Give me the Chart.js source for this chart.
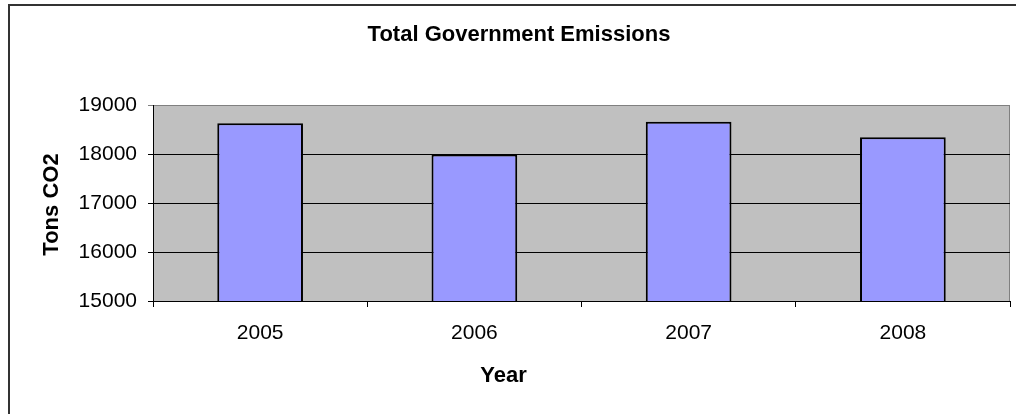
<!DOCTYPE html>
<html>
<head>
<meta charset="utf-8">
<title>Total Government Emissions</title>
<script src="https://cdn.jsdelivr.net/npm/chart.js@4"></script>
<style>
  html, body { margin: 0; padding: 0; background: #fff; }
  #wrap { width: 1016px; height: 414px; position: relative; }
</style>
</head>
<body>
<div id="wrap"><canvas id="emissionsChart"></canvas></div>
<script>
var years = ["2005", "2006", "2007", "2008"];
var tonsCO2 = [18630, 17990, 18660, 18340];
var yMin = 15000;
var yMax = 19000;
var yStep = 1000;

var FONT = "'Liberation Sans', Arial, sans-serif";

// grey plot area, frame and the three titles, drawn like an old spreadsheet chart
var excelFrame = {
  id: 'excelFrame',
  beforeDraw: function (chart) {
    var ctx = chart.ctx;
    var a = chart.chartArea;
    ctx.save();
    ctx.fillStyle = '#ffffff';
    ctx.fillRect(0, 0, chart.width, chart.height);
    ctx.fillStyle = '#c0c0c0';
    ctx.fillRect(a.left, a.top, a.right - a.left, a.bottom - a.top);
    ctx.strokeStyle = '#808080';
    ctx.lineWidth = 1;
    ctx.beginPath();
    ctx.moveTo(a.left, a.top + 0.5);
    ctx.lineTo(a.right - 0.5, a.top + 0.5);
    ctx.lineTo(a.right - 0.5, a.bottom);
    ctx.stroke();
    ctx.restore();
  },
  afterDraw: function (chart) {
    var ctx = chart.ctx;
    ctx.save();
    // outer chart border
    ctx.strokeStyle = '#333333';
    ctx.lineWidth = 2;
    ctx.strokeRect(9, 5, chart.width + 20, chart.height + 20);

    ctx.fillStyle = '#000';
    ctx.textAlign = 'center';
    ctx.textBaseline = 'alphabetic';
    ctx.font = 'bold 22px ' + FONT;
    ctx.fillText('Total Government Emissions', 519, 41);
    ctx.fillText('Year', 503.5, 381.5);

    ctx.translate(58, 204.5);
    ctx.rotate(-Math.PI / 2);
    ctx.fillText('Tons CO2', 0, 0);
    ctx.restore();
  }
};

var ctx = document.getElementById('emissionsChart').getContext('2d');
var emissionsChart = new Chart(ctx, {
  type: 'bar',
  data: {
    labels: years,
    datasets: [{
      label: 'Tons CO2',
      data: tonsCO2,
      backgroundColor: '#9999ff',
      borderColor: '#000000',
      borderWidth: 2,
      borderSkipped: false,
      barPercentage: 0.4,
      categoryPercentage: 1.0
    }]
  },
  options: {
    responsive: true,
    maintainAspectRatio: false,
    animation: false,
    events: [],
    layout: {
      padding: { top: 105, right: 6, bottom: 0, left: 0 }
    },
    plugins: {
      legend: { display: false },
      title: { display: false },
      tooltip: { enabled: false }
    },
    scales: {
      x: {
        afterFit: function (scale) { scale.height = 113; },
        grid: {
          offset: true,
          drawOnChartArea: false,
          drawTicks: true,
          tickLength: 6,
          color: '#000000'
        },
        border: { display: true, color: '#000000', width: 1 },
        ticks: {
          color: '#000000',
          padding: 14,
          maxRotation: 0,
          font: { family: FONT, size: 21 }
        }
      },
      y: {
        min: yMin,
        max: yMax,
        afterFit: function (scale) { scale.width = 153; },
        grid: {
          drawTicks: true,
          tickLength: 5,
          color: function (c) {
            return c.tick && c.tick.value === yMax ? '#808080' : '#000000';
          }
        },
        border: { display: true, color: '#000000', width: 1 },
        ticks: {
          stepSize: yStep,
          color: '#000000',
          padding: 11,
          font: { family: FONT, size: 21 },
          callback: function (v) { return String(v); }
        }
      }
    }
  },
  plugins: [excelFrame]
});
</script>
</body>
</html>
